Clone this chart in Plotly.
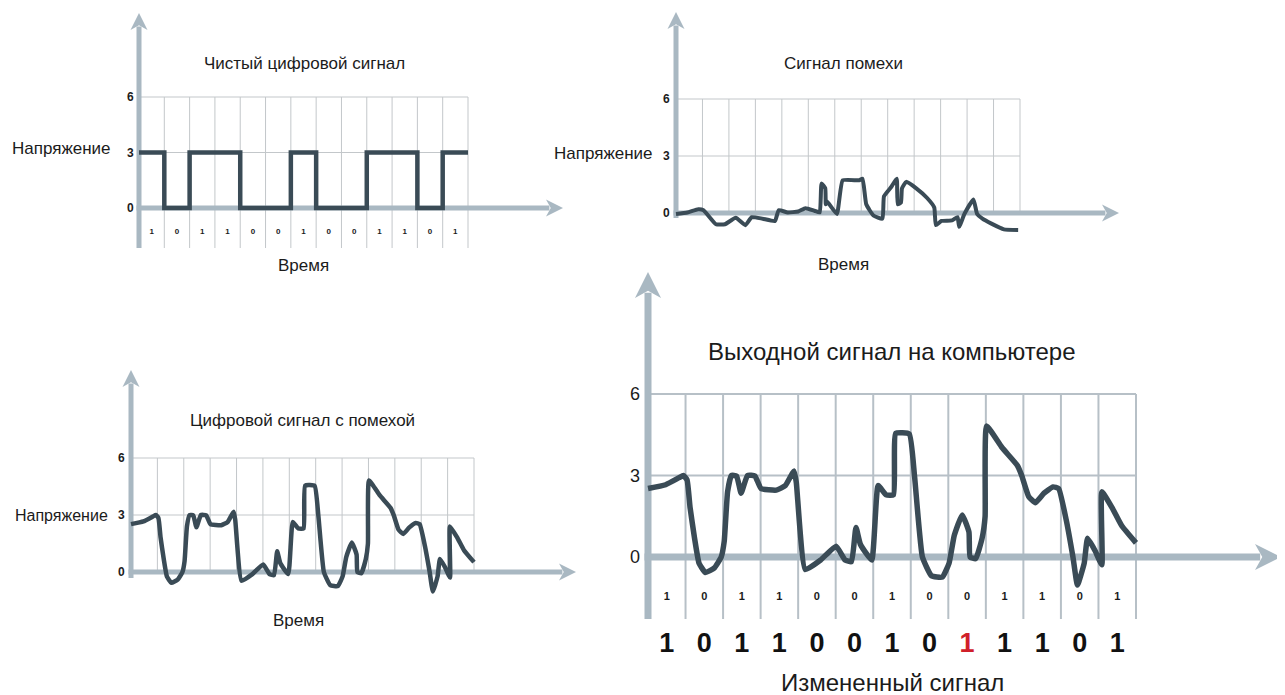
import plotly.graph_objects as go

# ---------------- data ----------------
sent_bits = [1, 0, 1, 1, 0, 0, 1, 0, 0, 1, 1, 0, 1]
received_bits = [1, 0, 1, 1, 0, 0, 1, 0, 1, 1, 1, 0, 1]
high_level = 3
y_ticks = [0, 3, 6]

noise_t = [0, 0.43, 0.84, 1.04, 1.51, 1.85, 2.26, 2.62, 2.86, 3.27, 3.74, 3.88, 4.22, 4.62,
           4.89, 5.23, 5.43, 5.5, 5.64, 5.66, 5.7, 6.08, 6.3, 6.92, 7.05, 7.19, 7.46, 7.8,
           7.86, 8.14, 8.34, 8.38, 8.5, 8.54, 8.7, 9.08, 9.49, 9.76, 9.82, 10.03, 10.43,
           10.64, 10.7, 10.9, 11.24, 11.38, 11.58, 11.92, 12.39, 12.93]
noise_v = [-0.05, 0.03, 0.2, 0.15, -0.59, -0.59, -0.25, -0.64, -0.22, -0.3, -0.42, 0.15, 0.03,
           0.08, 0.25, 0.12, 0.03, 1.55, 1.3, 0.46, 0.62, -0.05, 1.72, 1.72, 1.8, 0.46, -0.13,
           -0.3, 0.88, 1.38, 1.8, 0.46, 0.54, 1.3, 1.64, 1.3, 0.79, 0.29, -0.64, -0.42, -0.39,
           -0.22, -0.73, -0.05, 0.71, -0.05, -0.3, -0.56, -0.86, -0.89]

noisy_t = [0, 0.47, 0.83, 0.94, 1.04, 1.12, 1.24, 1.36, 1.53, 1.77, 1.95, 2.03, 2.12, 2.22,
           2.36, 2.48, 2.65, 2.85, 3.01, 3.42, 3.66, 3.89, 3.95, 4.19, 4.6, 5.01, 5.25, 5.42,
           5.54, 5.66, 5.96, 6.13, 6.34, 6.54, 6.6, 6.96, 7.1, 7.31, 7.55, 7.84, 8.02, 8.16,
           8.37, 8.55, 8.58, 8.73, 8.9, 8.98, 9.02, 9.43, 9.84, 9.96, 10.14, 10.32, 10.55,
           10.79, 10.94, 11.14, 11.32, 11.44, 11.62, 11.71, 11.91, 12.09, 12.09, 12.38, 12.62, 13.0]
noisy_v = [2.52, 2.66, 2.92, 3.0, 2.84, 1.83, 0.69, -0.23, -0.57, -0.4, 0.0, 0.57, 2.4, 3.0,
           2.98, 2.35, 3.0, 2.98, 2.52, 2.46, 2.63, 3.17, 2.75, -0.46, -0.11, 0.4, -0.11, -0.17,
           1.09, 0.46, -0.11, 2.63, 2.29, 2.29, 4.55, 4.53, 2.98, 0.0, -0.69, -0.74, -0.23, 0.8,
           1.55, 0.92, 0.0, -0.06, 0.69, 1.49, 4.82, 4.03, 3.37, 2.98, 2.23, 2.0, 2.35, 2.58,
           2.52, 1.37, 0.0, -1.03, -0.23, 0.69, 0.23, -0.29, 2.4, 1.77, 1.15, 0.52]

titles = ["Чистый цифровой сигнал", "Сигнал помехи", "Цифровой сигнал с помехой",
          "Выходной сигнал на компьютере"]
y_title = "Напряжение"
x_title = "Время"
bottom_title = "Измененный сигнал"

# ---------------- styling / geometry (viewport pixels) ----------------
VW, VH = 1285, 695
OFF = 8                      # default page body margin
W, H = VW - OFF, VH - OFF    # figure size
FONT = "Liberation Sans, Arial, sans-serif"
SIG = "#3a4b56"
ARROW = "#a9b8c2"
GRID = "#c3c7ca"
TXT = "#1b1b1b"

panels = {
    1: dict(box=(0, 0, 598, 292), x0=139, x13=468, y0=208, y6=97),
    2: dict(box=(600, 0, 1145, 290), x0=676, x13=1020, y0=213, y6=99),
    3: dict(box=(0, 362, 598, 645), x0=131, x13=474, y0=572, y6=458),
    4: dict(box=(596, 262, VW, VH), x0=648, x13=1136, y0=557, y6=394),
}

fig = go.Figure()
layout = dict(width=W, height=H, margin=dict(l=0, r=0, t=0, b=0),
              paper_bgcolor="white", plot_bgcolor="rgba(0,0,0,0)", showlegend=False)
shapes, annotations = [], []


def setup(n):
    p = panels[n]
    left, top, right, bottom = p["box"]
    left, top = max(left, OFF), max(top, OFF)
    sx = (p["x13"] - p["x0"]) / 13.0
    sy = (p["y0"] - p["y6"]) / 6.0
    p["sx"], p["sy"] = sx, sy
    sfx = "" if n == 1 else str(n)
    p["xa"], p["ya"] = "x" + sfx, "y" + sfx
    ax = dict(visible=False, fixedrange=True)
    layout["xaxis" + sfx] = dict(ax, domain=[(left - OFF) / W, (right - OFF) / W],
                                 range=[(left - p["x0"]) / sx, (right - p["x0"]) / sx],
                                 anchor=p["ya"])
    layout["yaxis" + sfx] = dict(ax, domain=[1 - (bottom - OFF) / H, 1 - (top - OFF) / H],
                                 range=[(p["y0"] - bottom) / sy, (p["y0"] - top) / sy],
                                 anchor=p["xa"])


def dx(n, px):
    p = panels[n]
    return (px - p["x0"]) / p["sx"]


def dy(n, py):
    p = panels[n]
    return (p["y0"] - py) / p["sy"]


def grid(n, bottom_px=None, width=1, color=GRID):
    p = panels[n]
    yb = 0 if bottom_px is None else dy(n, bottom_px)
    for i in range(1, 14):
        shapes.append(dict(type="line", xref=p["xa"], yref=p["ya"], x0=i, x1=i, y0=yb, y1=6,
                           line=dict(color=color, width=width), layer="below"))
    for v in y_ticks[1:]:
        shapes.append(dict(type="line", xref=p["xa"], yref=p["ya"], x0=0, x1=13, y0=v, y1=v,
                           line=dict(color=color, width=width), layer="below"))


def arrows(n, ybottom_px, ytip_px, xtip_px, shaft, head_w, head_h):
    p = panels[n]
    x0p, y0p = p["x0"], p["y0"]
    shapes.append(dict(type="line", xref=p["xa"], yref=p["ya"], x0=0, x1=0,
                       y0=dy(n, ybottom_px), y1=dy(n, ytip_px + head_h * 0.8),
                       line=dict(color=ARROW, width=shaft), layer="below"))
    pts = [(x0p, ytip_px), (x0p + head_w / 2, ytip_px + head_h),
           (x0p, ytip_px + head_h * 0.72), (x0p - head_w / 2, ytip_px + head_h)]
    path = "M " + " L ".join(f"{dx(n, a):.4f},{dy(n, b):.4f}" for a, b in pts) + " Z"
    shapes.append(dict(type="path", xref=p["xa"], yref=p["ya"], path=path,
                       fillcolor=ARROW, line=dict(width=0), layer="below"))
    shapes.append(dict(type="line", xref=p["xa"], yref=p["ya"], x0=dx(n, x0p - shaft / 2),
                       x1=dx(n, xtip_px - head_h * 0.8), y0=0, y1=0,
                       line=dict(color=ARROW, width=shaft), layer="below"))
    pts = [(xtip_px, y0p), (xtip_px - head_h, y0p - head_w / 2),
           (xtip_px - head_h * 0.72, y0p), (xtip_px - head_h, y0p + head_w / 2)]
    path = "M " + " L ".join(f"{dx(n, a):.4f},{dy(n, b):.4f}" for a, b in pts) + " Z"
    shapes.append(dict(type="path", xref=p["xa"], yref=p["ya"], path=path,
                       fillcolor=ARROW, line=dict(width=0), layer="below"))


def text(n, xpx, ypx, s, size, anchor="center", bold=False, color=TXT):
    p = panels[n]
    annotations.append(dict(xref=p["xa"], yref=p["ya"], x=dx(n, xpx), y=dy(n, ypx),
                            text=s, showarrow=False, xanchor=anchor, yanchor="middle",
                            font=dict(family=FONT, size=size, color=color,
                                      weight="bold" if bold else "normal")))


def ticks(n, right_px, size, bold=True):
    p = panels[n]
    for v in y_ticks:
        annotations.append(dict(xref=p["xa"], yref=p["ya"], x=dx(n, right_px), y=v,
                                text=str(v), showarrow=False, xanchor="right",
                                yanchor="middle",
                                font=dict(family=FONT, size=size, color=TXT,
                                          weight="bold" if bold else "normal")))


for n in panels:
    setup(n)

# ---------- panel 1: clean signal ----------
grid(1, bottom_px=248)
arrows(1, 248, 13, 563, 5, 17, 17)
fig.add_trace(go.Scatter(x=list(range(14)),
                         y=[high_level * b for b in sent_bits] + [high_level * sent_bits[-1]],
                         mode="lines", line=dict(color=SIG, width=4.5, shape="hv"),
                         xaxis="x", yaxis="y", hoverinfo="skip"))
fig.add_trace(go.Scatter(x=[i + 0.5 for i in range(13)], y=[dy(1, 232)] * 13,
                         text=[str(b) for b in sent_bits], mode="text",
                         textfont=dict(family=FONT, size=8, color=TXT, weight="bold"),
                         xaxis="x", yaxis="y", hoverinfo="skip"))
ticks(1, 136, 12)
text(1, 304, 63, titles[0], 17)
text(1, 113, 148, y_title, 17, anchor="right")
text(1, 303, 265, x_title, 17)

# ---------- panel 2: noise ----------
grid(2)
arrows(2, 218, 12, 1119, 5, 17, 17)
fig.add_trace(go.Scatter(x=noise_t, y=noise_v, mode="lines",
                         line=dict(color=SIG, width=4, shape="spline", smoothing=0.4),
                         xaxis="x2", yaxis="y2", hoverinfo="skip"))
ticks(2, 672, 12)
text(2, 843, 63, titles[1], 17)
text(2, 655, 153, y_title, 17, anchor="right")
text(2, 843, 264, x_title, 17)

# ---------- panel 3: signal + noise ----------
grid(3)
arrows(3, 578, 370, 576, 5, 17, 17)
fig.add_trace(go.Scatter(x=noisy_t, y=noisy_v, mode="lines",
                         line=dict(color=SIG, width=4.5, shape="spline", smoothing=0.4),
                         xaxis="x3", yaxis="y3", hoverinfo="skip"))
ticks(3, 127, 12)
text(3, 302, 420, titles[2], 17)
text(3, 110, 515, y_title, 16, anchor="right")
text(3, 298, 620, x_title, 17)

# ---------- panel 4: output ----------
grid(4, bottom_px=619, width=2, color="#b7c0c7")
arrows(4, 619, 272, 1281, 7, 26, 26)
fig.add_trace(go.Scatter(x=noisy_t, y=noisy_v, mode="lines",
                         line=dict(color=SIG, width=5.5, shape="spline", smoothing=0.4),
                         xaxis="x4", yaxis="y4", hoverinfo="skip"))
fig.add_trace(go.Scatter(x=[i + 0.5 for i in range(13)], y=[dy(4, 597)] * 13,
                         text=[str(b) for b in sent_bits], mode="text",
                         textfont=dict(family=FONT, size=11, color=TXT, weight="bold"),
                         xaxis="x4", yaxis="y4", hoverinfo="skip"))
big_colors = ["#111111" if r == s else "#d0202a" for r, s in zip(received_bits, sent_bits)]
fig.add_trace(go.Scatter(x=[i + 0.5 for i in range(13)], y=[dy(4, 645)] * 13,
                         text=[str(b) for b in received_bits], mode="text",
                         textfont=dict(family=FONT, size=27, color=big_colors, weight="bold"),
                         xaxis="x4", yaxis="y4", hoverinfo="skip"))
ticks(4, 642, 18, bold=False)
text(4, 892, 351, titles[3], 24)
text(4, 892, 682, bottom_title, 24)

layout["shapes"] = shapes
layout["annotations"] = annotations
fig.update_layout(**layout)
fig.write_html("out.html")
